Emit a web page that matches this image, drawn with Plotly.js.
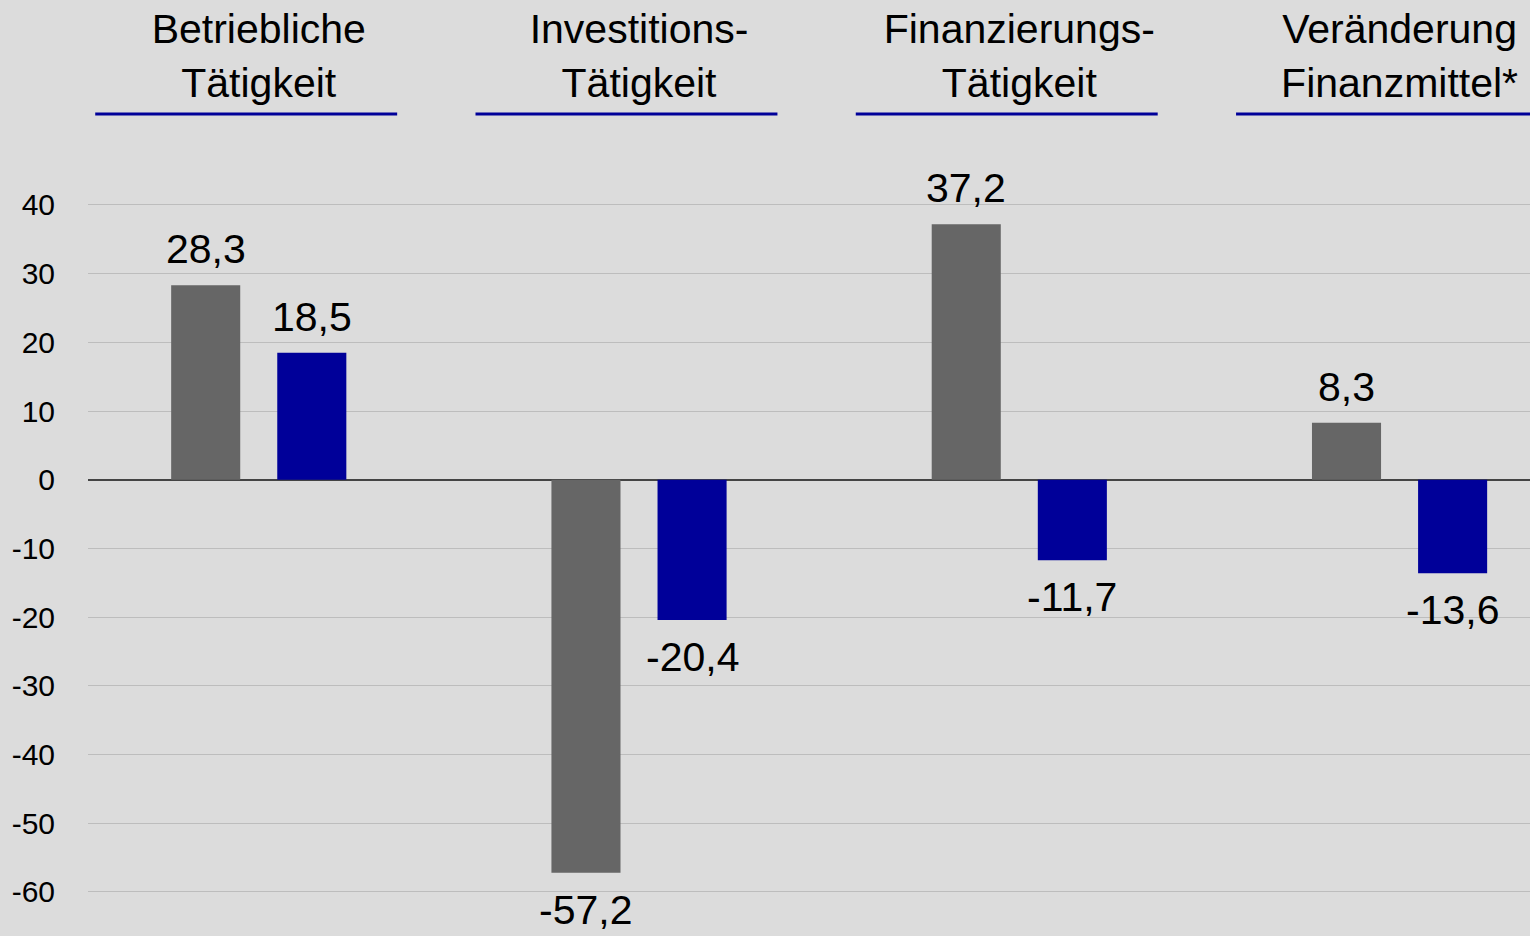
<!DOCTYPE html>
<html>
<head>
<meta charset="utf-8">
<script src="https://cdn.plot.ly/plotly-3.0.1.min.js"></script>
<style>
  html, body { margin: 0; padding: 0; background: #dcdcdc; }
  #chart { width: 1530px; height: 936px; }
</style>
</head>
<body>
<div id="chart"></div>
<script>
// ---- Data ----
const categories = [
  "Betriebliche<br>Tätigkeit",
  "Investitions-<br>Tätigkeit",
  "Finanzierungs-<br>Tätigkeit",
  "Veränderung<br>Finanzmittel*"
];
const seriesGray = [28.3, -57.2, 37.2, 8.3];
const seriesBlue = [18.5, -20.4, -11.7, -13.6];
const yTickValues = [40, 30, 20, 10, 0, -10, -20, -30, -40, -50, -60];

// ---- Helpers ----
const fmt = v => v.toFixed(1).replace('.', ',');
const FONT = 'Liberation Sans, Arial, sans-serif';

const traceGray = {
  type: 'bar', x: categories, y: seriesGray, name: 'Gray',
  marker: { color: '#666666' }, hoverinfo: 'skip'
};
const traceBlue = {
  type: 'bar', x: categories, y: seriesBlue, name: 'Blue',
  marker: { color: '#000099' }, hoverinfo: 'skip'
};

// value labels as annotations, offset from the bar ends
const annotations = [];
const slot = (1 - 0.442) / 2;
[[seriesGray, -slot / 2], [seriesBlue, slot / 2]].forEach(([vals, off]) => {
  vals.forEach((v, i) => {
    annotations.push({
      x: i + off, xref: 'x', y: v, yref: 'y',
      text: fmt(v), showarrow: false,
      yanchor: 'middle', xanchor: 'center',
      yshift: v >= 0 ? 36 : -37,
      font: { family: FONT, size: 41, color: '#000000' }
    });
  });
});

// blue underlines below the category headers
const shapes = categories.map((c, i) => ({
  type: 'line', xref: 'x', yref: 'paper',
  x0: i - 0.033 - 0.397, x1: i - 0.033 + 0.397,
  y0: 1.005, y1: 1.005,
  line: { color: '#000099', width: 3 }
}));

const layout = {
  width: 1530, height: 936,
  paper_bgcolor: '#dcdcdc', plot_bgcolor: '#dcdcdc',
  margin: { l: 88, r: 0, t: 118, b: 3 },
  showlegend: false,
  barmode: 'group', bargap: 0.442, bargroupgap: 0.349,
  font: { family: FONT, color: '#000000' },
  xaxis: {
    type: 'category', side: 'top',
    range: [-0.449, 3.343],
    showgrid: false, zeroline: false, showline: false,
    ticks: '', tickfont: { family: FONT, size: 41, color: '#000000' },
    ticklabelstandoff: 12,
    fixedrange: true
  },
  yaxis: {
    range: [-65.97, 52.66],
    tickvals: yTickValues,
    ticktext: yTickValues.map(String),
    showgrid: true, gridcolor: '#bdbdbd', gridwidth: 1,
    zeroline: true, zerolinecolor: '#444444', zerolinewidth: 1.5,
    showline: false,
    ticks: 'outside', ticklen: 26, tickcolor: 'rgba(0,0,0,0)',
    tickfont: { family: FONT, size: 30, color: '#000000' },
    fixedrange: true
  },
  annotations: annotations,
  shapes: shapes
};

Plotly.newPlot('chart', [traceGray, traceBlue], layout, { displayModeBar: false, staticPlot: true });
</script>
</body>
</html>
